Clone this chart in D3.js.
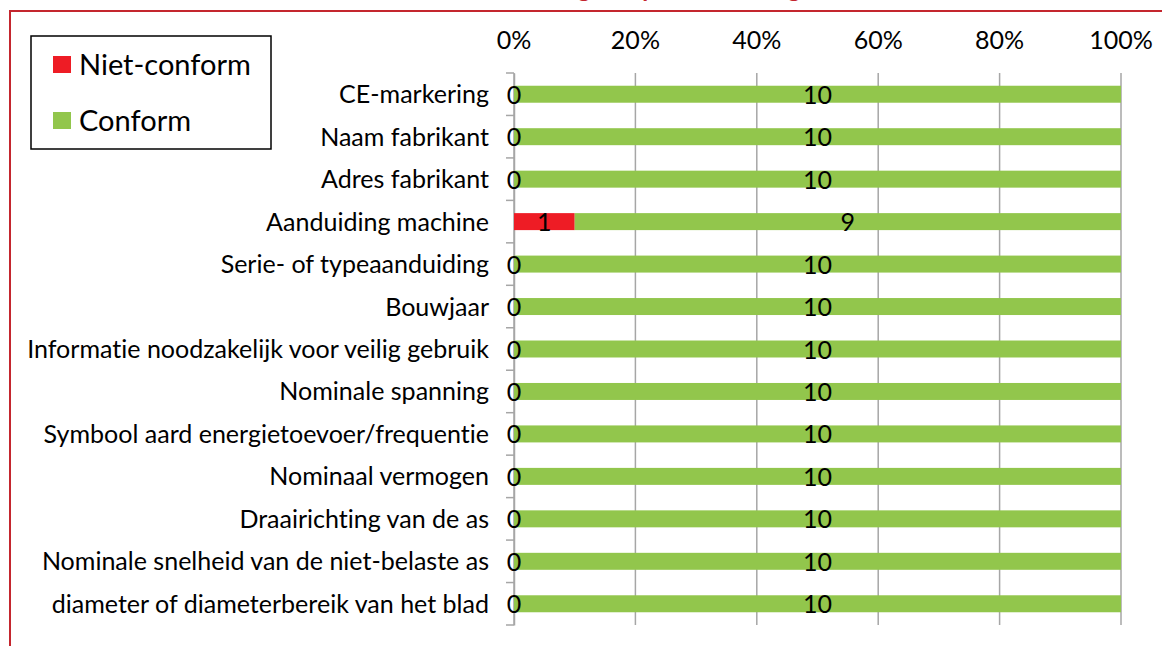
<!DOCTYPE html>
<html>
<head>
<meta charset="utf-8">
<script src="https://cdn.jsdelivr.net/npm/d3@7"></script>
<style>
  body { margin: 0; background: #fff; }
  svg { display: block; font-family: Lato, "Open Sans", sans-serif; font-variant-ligatures: none; }
</style>
</head>
<body>
<div id="chart"></div>
<script>
// gegevens
const categories = [
  "CE-markering",
  "Naam fabrikant",
  "Adres fabrikant",
  "Aanduiding machine",
  "Serie- of typeaanduiding",
  "Bouwjaar",
  "Informatie noodzakelijk voor veilig gebruik",
  "Nominale spanning",
  "Symbool aard energietoevoer/frequentie",
  "Nominaal vermogen",
  "Draairichting van de as",
  "Nominale snelheid van de niet-belaste as",
  "diameter of diameterbereik van het blad"
];
const nietConform = [0, 0, 0, 1, 0, 0, 0, 0, 0, 0, 0, 0, 0];
const conform = [10, 10, 10, 9, 10, 10, 10, 10, 10, 10, 10, 10, 10];
const ticks = [0, 0.2, 0.4, 0.6, 0.8, 1];
const seriesNames = ["Niet-conform", "Conform"];
const colors = ["#ee1c25", "#92c64c"];

const width = 1162, height = 646;
const margin = { top: 73, right: 41, bottom: 21, left: 514 };

const svg = d3.select("#chart").append("svg")
  .attr("width", width)
  .attr("height", height);

// helper: lettergrootte zoeken voor een gewenste breedte
function fitSize(txt, target, weight) {
  const t = svg.append("text").attr("font-size", 100).attr("font-weight", weight || "normal").text(txt);
  const w = t.node().getComputedTextLength();
  t.remove();
  return 100 * target / w;
}
const labelSize = fitSize("Informatie noodzakelijk voor veilig gebruik", 462);
const legendSize = fitSize("Niet-conform", 172);

// rode kader
svg.append("line").attr("x1", 9).attr("x2", width).attr("y1", 11).attr("y2", 11)
  .attr("stroke", "#c4262e").attr("stroke-width", 2);
svg.append("line").attr("x1", 10).attr("x2", 10).attr("y1", 10).attr("y2", height)
  .attr("stroke", "#c4262e").attr("stroke-width", 2);

// titel (grotendeels buiten beeld, zoals in het origineel)
svg.append("text")
  .attr("x", 690).attr("y", -3)
  .attr("text-anchor", "middle")
  .attr("font-weight", "bold")
  .attr("font-size", 24)
  .attr("fill", "#c4262e")
  .text("Markering en opschriften volgens norm");

const x = d3.scaleLinear().domain([0, 1]).range([margin.left, width - margin.right]);
const y = d3.scaleBand().domain(categories).range([margin.top, height - margin.bottom]).paddingInner(0.6).paddingOuter(0.3);
const yb = d3.scaleBand().domain(categories).range([margin.top, height - margin.bottom]);

// rasterlijnen
svg.append("g").selectAll("line").data(ticks).enter().append("line")
  .attr("x1", d => x(d)).attr("x2", d => x(d))
  .attr("y1", margin.top).attr("y2", height - margin.bottom)
  .attr("stroke", "#a6a6a6").attr("stroke-width", 1.5);

// bovenste as labels
svg.append("g").selectAll("text").data(ticks).enter().append("text")
  .attr("x", d => x(d)).attr("y", 49)
  .attr("text-anchor", "middle")
  .attr("font-size", labelSize)
  .attr("fill", "#000")
  .text(d => d3.format(".0%")(d));

// linker as met streepjes
const yAxis = d3.axisLeft(yb).tickSize(0).tickFormat("");
svg.append("g").attr("transform", `translate(${margin.left},0)`).call(yAxis)
  .call(g => g.select(".domain").attr("stroke", "#a6a6a6").attr("stroke-width", 1.5));
svg.append("g").selectAll("line").data(categories.concat(["_end"])).enter().append("line")
  .attr("x1", margin.left - 8).attr("x2", margin.left)
  .attr("y1", (d, i) => i < categories.length ? yb(d) : yb(categories[categories.length - 1]) + yb.bandwidth())
  .attr("y2", (d, i) => i < categories.length ? yb(d) : yb(categories[categories.length - 1]) + yb.bandwidth())
  .attr("stroke", "#a6a6a6").attr("stroke-width", 1.5);

// categorie labels
svg.append("g").selectAll("text").data(categories).enter().append("text")
  .attr("x", margin.left - 25)
  .attr("y", d => yb(d) + yb.bandwidth() / 2)
  .attr("dy", "0.36em")
  .attr("text-anchor", "end")
  .attr("font-size", labelSize)
  .attr("fill", "#000")
  .text(d => d);

// gestapelde balken (100%)
const rows = categories.map((c, i) => ({ cat: c, n: nietConform[i], c: conform[i] }));
const stack = d3.stack().keys(["n", "c"]).offset(d3.stackOffsetExpand);
const series = stack(rows);

const layers = svg.append("g").selectAll("g").data(series).enter().append("g")
  .attr("fill", (d, i) => colors[i]);

layers.selectAll("rect").data(d => d).enter().append("rect")
  .attr("x", d => x(d[0]))
  .attr("y", d => y(d.data.cat))
  .attr("width", d => x(d[1]) - x(d[0]))
  .attr("height", y.bandwidth());

// waarden (boven alle balken)
const valueLayer = svg.append("g");
series.forEach(s => {
  valueLayer.append("g").selectAll("text").data(s).enter().append("text")
    .attr("x", d => (x(d[0]) + x(d[1])) / 2)
    .attr("y", d => y(d.data.cat) + y.bandwidth() / 2)
    .attr("dy", "0.38em")
    .attr("text-anchor", "middle")
    .attr("font-size", labelSize)
    .attr("fill", "#000")
    .text(d => d.data[s.key]);
});

// legenda
const legend = svg.append("g");
legend.append("rect")
  .attr("x", 31).attr("y", 36).attr("width", 240).attr("height", 113)
  .attr("fill", "#fff").attr("stroke", "#000").attr("stroke-width", 1.5);
const li = legend.selectAll("g").data(seriesNames).enter().append("g")
  .attr("transform", (d, i) => `translate(53,${56 + i * 56})`);
li.append("rect").attr("width", 18).attr("height", 17).attr("fill", (d, i) => colors[i]);
li.append("text")
  .attr("x", 26).attr("y", 8.5).attr("dy", "0.36em")
  .attr("font-size", legendSize)
  .attr("fill", "#000")
  .text(d => d);
</script>
</body>
</html>
